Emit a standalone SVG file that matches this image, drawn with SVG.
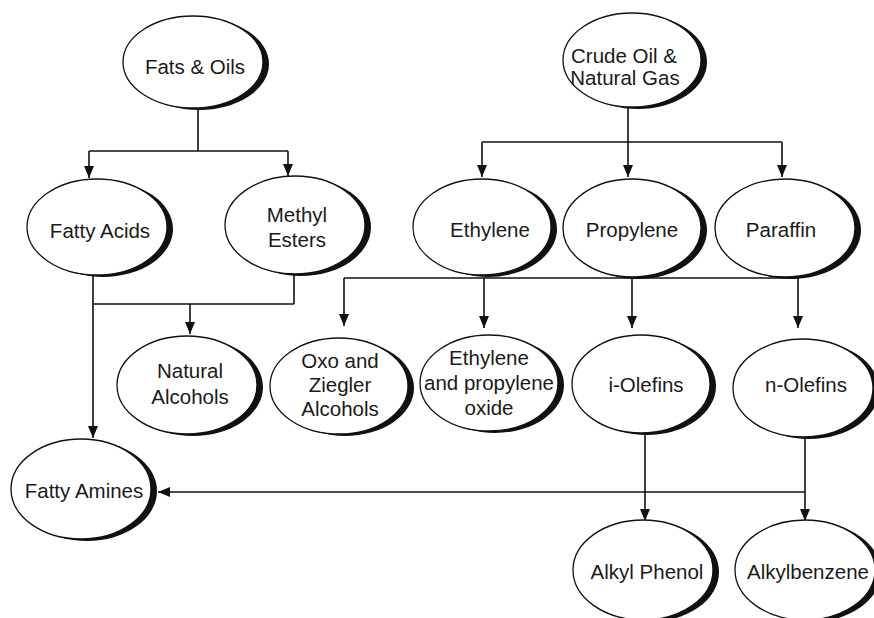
<svg xmlns="http://www.w3.org/2000/svg" width="874" height="618" viewBox="0 0 874 618">
<style>
.sh{fill:#111;stroke:none}
.nd{fill:#fff;stroke:#111;stroke-width:1.3}
text{font-family:"Liberation Sans",Arial,sans-serif;font-size:20.5px;fill:#1a1a1a;text-anchor:middle}
.c{fill:none;stroke:#111;stroke-width:1.6}
</style>
<defs>
<marker id="arr" viewBox="0 0 12 10" refX="12" refY="5" markerWidth="13" markerHeight="10" markerUnits="userSpaceOnUse" orient="auto">
<path d="M0,0 L12,5 L0,10 z" fill="#111"/>
</marker>
</defs>
<rect width="874" height="618" fill="#fff"/>
<g id="connectors">
<path class="c" d="M198,110 V151 M89,151 H288"/>
<path class="c" d="M89,151 V178" marker-end="url(#arr)"/>
<path class="c" d="M288,151 V176" marker-end="url(#arr)"/>
<path class="c" d="M628,108 V142 M482,142 H782"/>
<path class="c" d="M482,142 V177" marker-end="url(#arr)"/>
<path class="c" d="M628,142 V177" marker-end="url(#arr)"/>
<path class="c" d="M782,142 V177" marker-end="url(#arr)"/>
<path class="c" d="M93,276 V438" marker-end="url(#arr)"/>
<path class="c" d="M294,275 V304 M93,304 H294"/>
<path class="c" d="M190,304 V334" marker-end="url(#arr)"/>
<path class="c" d="M344,278 H798"/>
<path class="c" d="M344,278 V326" marker-end="url(#arr)"/>
<path class="c" d="M484,278 V328" marker-end="url(#arr)"/>
<path class="c" d="M632,278 V328" marker-end="url(#arr)"/>
<path class="c" d="M798,278 V328" marker-end="url(#arr)"/>
<path class="c" d="M645,433 V521" marker-end="url(#arr)"/>
<path class="c" d="M805,437 V521" marker-end="url(#arr)"/>
<path class="c" d="M805,492 H158" marker-end="url(#arr)"/>
</g>
<g id="fats-oils"><ellipse class="sh" cx="199" cy="64" rx="70" ry="46"/><ellipse class="nd" cx="193" cy="62" rx="70" ry="46"/><text x="195" y="74">Fats &amp; Oils</text></g>
<g id="crude-oil"><ellipse class="sh" cx="638" cy="62" rx="69" ry="47"/><ellipse class="nd" cx="632" cy="60" rx="69" ry="47"/><text x="624" y="63">Crude Oil &amp;</text><text x="625" y="85">Natural Gas</text></g>
<g id="fatty-acids"><ellipse class="sh" cx="103" cy="229" rx="70" ry="48"/><ellipse class="nd" cx="97" cy="227" rx="70" ry="48"/><text x="100" y="238">Fatty Acids</text></g>
<g id="methyl-esters"><ellipse class="sh" cx="301" cy="227" rx="70" ry="49"/><ellipse class="nd" cx="295" cy="225" rx="70" ry="49"/><text x="297" y="222">Methyl</text><text x="297" y="247">Esters</text></g>
<g id="ethylene"><ellipse class="sh" cx="488" cy="229" rx="69" ry="48"/><ellipse class="nd" cx="482" cy="227" rx="69" ry="48"/><text x="490" y="237">Ethylene</text></g>
<g id="propylene"><ellipse class="sh" cx="638" cy="230" rx="69" ry="49"/><ellipse class="nd" cx="632" cy="228" rx="69" ry="49"/><text x="632" y="237">Propylene</text></g>
<g id="paraffin"><ellipse class="sh" cx="791" cy="230" rx="70" ry="49"/><ellipse class="nd" cx="785" cy="228" rx="70" ry="49"/><text x="781" y="237">Paraffin</text></g>
<g id="natural-alcohols"><ellipse class="sh" cx="193" cy="387" rx="70" ry="49"/><ellipse class="nd" cx="187" cy="385" rx="70" ry="49"/><text x="190" y="378">Natural</text><text x="190" y="404">Alcohols</text></g>
<g id="oxo-ziegler"><ellipse class="sh" cx="345" cy="388" rx="69" ry="48"/><ellipse class="nd" cx="339" cy="386" rx="69" ry="48"/><text x="340" y="368">Oxo and</text><text x="340" y="392">Ziegler</text><text x="340" y="416">Alcohols</text></g>
<g id="ethylene-propylene-oxide"><ellipse class="sh" cx="495" cy="385" rx="69" ry="48"/><ellipse class="nd" cx="489" cy="383" rx="69" ry="48"/><text x="489" y="365">Ethylene</text><text x="489" y="390">and propylene</text><text x="489" y="415">oxide</text></g>
<g id="i-olefins"><ellipse class="sh" cx="647" cy="386" rx="69" ry="49"/><ellipse class="nd" cx="641" cy="384" rx="69" ry="49"/><text x="646" y="392">i-Olefins</text></g>
<g id="n-olefins"><ellipse class="sh" cx="809" cy="390" rx="70" ry="49"/><ellipse class="nd" cx="803" cy="388" rx="70" ry="49"/><text x="806" y="392">n-Olefins</text></g>
<g id="fatty-amines"><ellipse class="sh" cx="87" cy="491" rx="70" ry="50"/><ellipse class="nd" cx="81" cy="489" rx="70" ry="50"/><text x="84" y="498">Fatty Amines</text></g>
<g id="alkyl-phenol"><ellipse class="sh" cx="649" cy="572" rx="70" ry="50"/><ellipse class="nd" cx="643" cy="570" rx="70" ry="50"/><text x="647" y="579">Alkyl Phenol</text></g>
<g id="alkylbenzene"><ellipse class="sh" cx="811" cy="572" rx="70" ry="50"/><ellipse class="nd" cx="805" cy="570" rx="70" ry="50"/><text x="808" y="579">Alkylbenzene</text></g>
</svg>
